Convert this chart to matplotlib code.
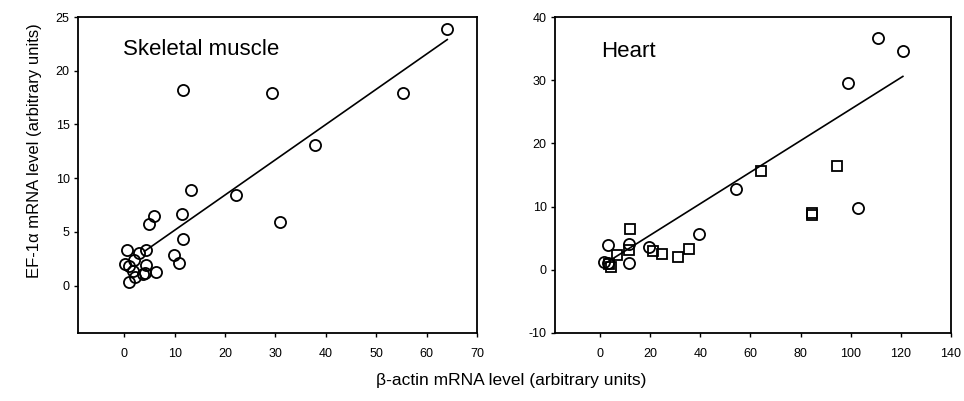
import numpy as np
import matplotlib
matplotlib.use("Agg")
import matplotlib.pyplot as plt

plt.rcParams['font.family'] = ['Liberation Sans', 'DejaVu Sans']
plt.rcParams['axes.unicode_minus'] = False

# skeletal muscle (circles)
sk_x = [64.1, 11.6, 29.3, 55.4, 37.8, 13.2, 22.2, 30.8, 5.9, 4.9, 11.4, 11.6,
        9.9, 10.8, 0.5, 4.3, 2.9, 1.9, 0.1, 0.9, 4.3, 1.8, 3.7, 4.2, 6.3, 1.0, 2.1]
sk_y = [23.9, 18.2, 17.9, 17.9, 13.1, 8.9, 8.4, 5.9, 6.5, 5.7, 6.7, 4.3,
        2.9, 2.1, 3.3, 3.3, 3.0, 2.4, 2.0, 1.8, 1.9, 1.4, 1.1, 1.2, 1.3, 0.3, 0.8]
sk_line_x = [4.0, 64.1]
sk_line_y = [3.2, 22.9]

# heart: circles and squares
ht_circ_x = [110.9, 120.8, 98.8, 102.9, 54.3, 39.3, 19.6, 3.0, 11.6, 11.6, 1.6, 3.0]
ht_circ_y = [36.7, 34.6, 29.6, 9.8, 12.8, 5.7, 3.6, 3.9, 4.1, 1.1, 1.3, 1.1]
ht_sq_x = [64.1, 94.5, 84.4, 84.4, 12.1, 6.8, 11.6, 21.2, 24.9, 30.9, 35.6, 4.2, 3.6]
ht_sq_y = [15.7, 16.5, 9.0, 8.6, 6.5, 2.3, 3.2, 2.9, 2.5, 2.1, 3.3, 0.4, 0.9]
ht_line_x = [2.0, 120.8]
ht_line_y = [1.0, 30.6]

fig = plt.figure(figsize=(9.64, 4.01), dpi=100)
ax1 = fig.add_axes([0.0809, 0.1696, 0.4139, 0.788])
ax2 = fig.add_axes([0.5757, 0.1696, 0.4108, 0.788])

mk = dict(linestyle='none', markerfacecolor='none', markeredgecolor='black',
          markeredgewidth=1.3)

ax1.plot(sk_x, sk_y, marker='o', markersize=8, **mk)
ax1.plot(sk_line_x, sk_line_y, color='black', linewidth=1.2)
ax1.set_xlim(-9.2, 70)
ax1.set_ylim(-4.4, 25)
ax1.set_xticks(range(0, 71, 10))
ax1.set_yticks(range(0, 26, 5))
ax1.text(0.113, 0.88, 'Skeletal muscle', transform=ax1.transAxes, fontsize=16)

ax2.plot(ht_circ_x, ht_circ_y, marker='o', markersize=8, **mk)
ax2.plot(ht_sq_x, ht_sq_y, marker='s', markersize=6.5, **mk)
ax2.plot(ht_line_x, ht_line_y, color='black', linewidth=1.2)
ax2.set_xlim(-18, 140)
ax2.set_ylim(-10, 40)
ax2.set_xticks(range(0, 141, 20))
ax2.set_yticks(range(-10, 41, 10))
ax2.text(0.116, 0.873, 'Heart', transform=ax2.transAxes, fontsize=16)

for ax in (ax1, ax2):
    for s in ax.spines.values():
        s.set_linewidth(1.3)
        s.set_color('black')
    ax.tick_params(direction='out', length=3, width=1, labelsize=9)
    ax.tick_params(axis='x', pad=8)
    ax.tick_params(axis='y', pad=3)

fig.text(35 / 964, 1 - 151 / 401, 'EF-1\u03b1 mRNA level (arbitrary units)',
         rotation=90, ha='center', va='center', fontsize=12)
fig.text(511 / 964, 1 - 381 / 401, '\u03b2-actin mRNA level (arbitrary units)',
         ha='center', va='center', fontsize=12.5)

fig.savefig('out.png', dpi=100)
